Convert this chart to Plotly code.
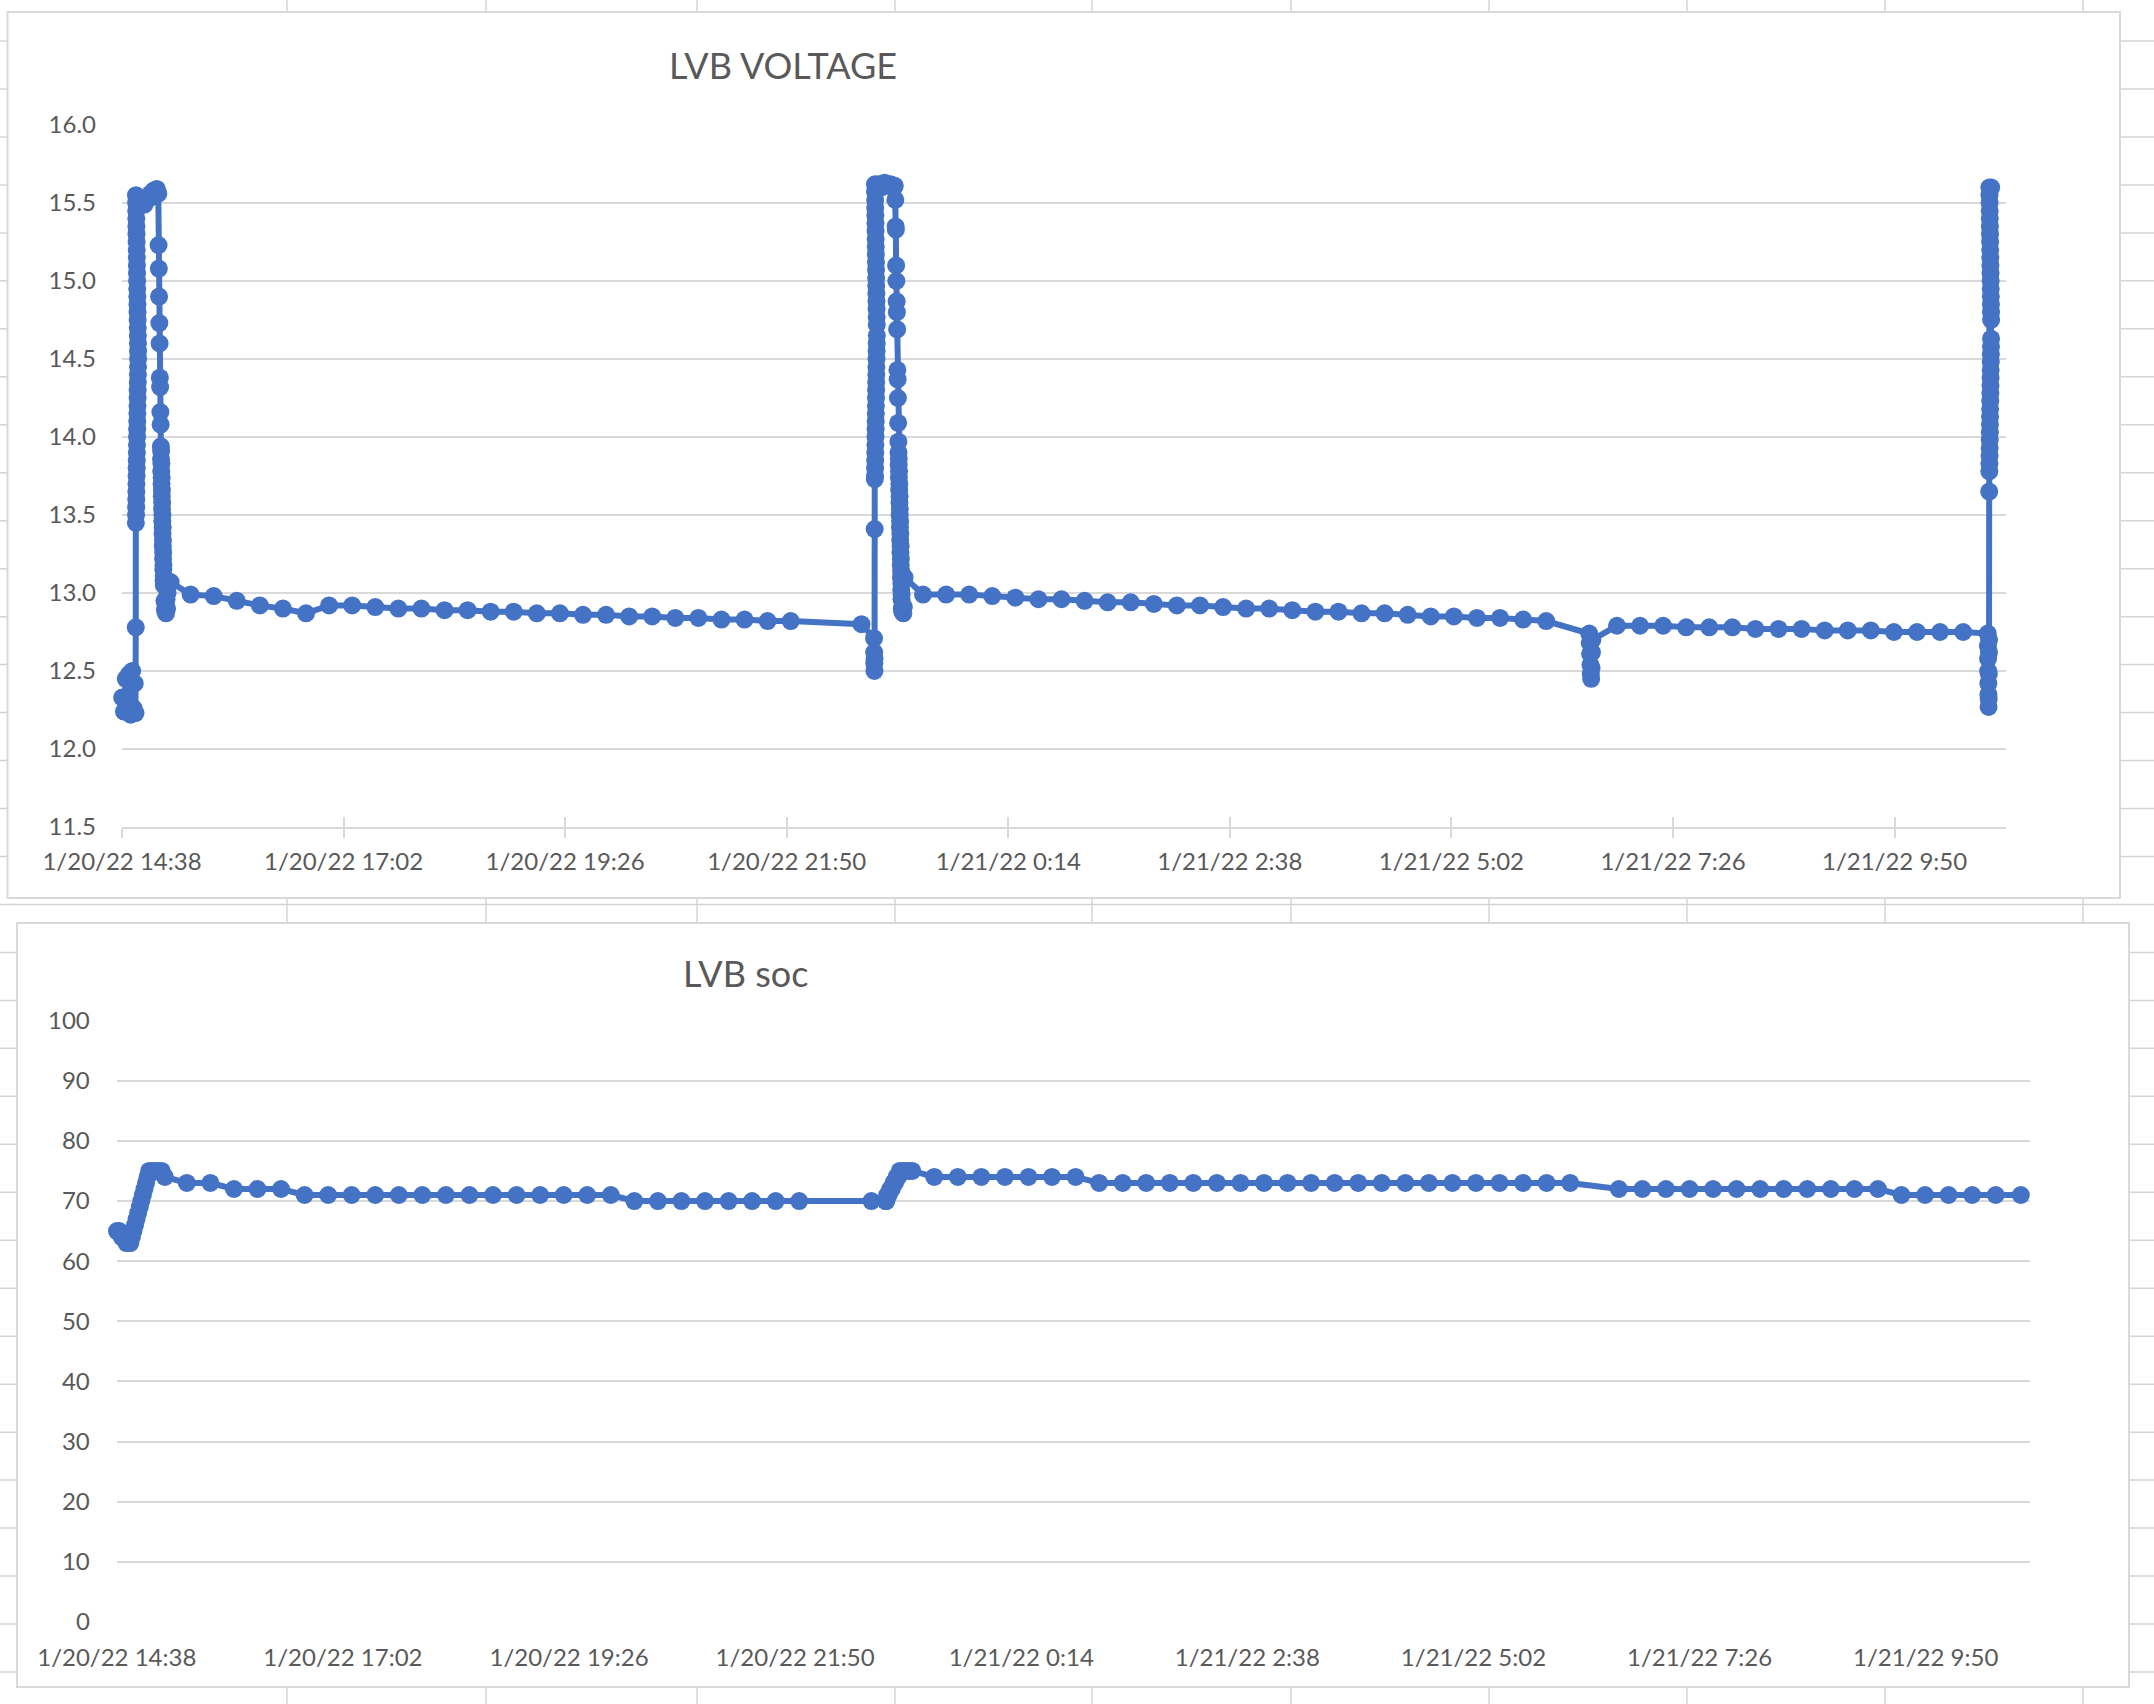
import pandas as pd
import plotly.graph_objects as go

# ---------------- DATA ----------------
# times are "DD HH:MM[:SS]" on January 2022
TICK_TIMES = ["20 14:38:24", "20 17:02:24", "20 19:26:24", "20 21:50:24", "21 00:14:24",
              "21 02:38:24", "21 05:02:24", "21 07:26:24", "21 09:50:24"]
TICK_TEXT = ["1/20/22 14:38", "1/20/22 17:02", "1/20/22 19:26", "1/20/22 21:50", "1/21/22 0:14",
             "1/21/22 2:38", "1/21/22 5:02", "1/21/22 7:26", "1/21/22 9:50"]

# ---- first charge: voltage ----
CHG1_PRE_TIME = ["20 14:38:30", "20 14:39:40", "20 14:40:50", "20 14:42:00", "20 14:43:00", "20 14:44:00",
                 "20 14:45:00", "20 14:46:00", "20 14:46:40", "20 14:47:10", "20 14:47:20", "20 14:47:25"]
CHG1_PRE_V = [12.33, 12.24, 12.45, 12.30, 12.48, 12.22, 12.50, 12.26, 12.42, 12.23, 12.78, 13.45]
CHG1_BAND_TIME = ["20 14:47:30", "20 14:47:32", "20 14:47:34", "20 14:47:36", "20 14:47:38", "20 14:47:40",
                  "20 14:47:42", "20 14:47:44", "20 14:47:46", "20 14:47:48", "20 14:47:50", "20 14:47:52",
                  "20 14:47:54", "20 14:47:56", "20 14:47:58", "20 14:48:00", "20 14:48:02", "20 14:48:04",
                  "20 14:48:06", "20 14:48:08", "20 14:48:10", "20 14:48:12", "20 14:48:14", "20 14:48:16",
                  "20 14:48:18", "20 14:48:20", "20 14:48:22", "20 14:48:24", "20 14:48:26", "20 14:48:28",
                  "20 14:48:30", "20 14:48:32", "20 14:48:34", "20 14:48:36", "20 14:48:38", "20 14:48:40",
                  "20 14:48:42", "20 14:48:44", "20 14:48:46", "20 14:48:48", "20 14:48:50", "20 14:48:52"]
CHG1_BAND_V = [15.55, 13.50, 15.50, 13.55, 15.45, 13.60, 15.40, 13.65, 15.35, 13.70, 15.30, 13.75,
               15.25, 13.80, 15.20, 13.85, 15.15, 13.90, 15.10, 13.95, 15.05, 14.00, 15.00, 14.05,
               14.95, 14.10, 14.90, 14.15, 14.85, 14.20, 14.80, 14.25, 14.75, 14.30, 14.70, 14.35,
               14.65, 14.40, 14.60, 14.45, 14.55, 14.50]
CHG1_POST_TIME = ["20 14:50:00", "20 14:53:00", "20 14:56:00", "20 14:57:00", "20 14:58:00", "20 14:59:00",
                  "20 15:00:00", "20 15:01:00", "20 15:01:30", "20 15:02:00",
                  "20 15:02:10", "20 15:02:20", "20 15:02:30", "20 15:02:40", "20 15:02:50", "20 15:03:00",
                  "20 15:03:10", "20 15:03:20", "20 15:03:30",
                  "20 15:03:40", "20 15:03:45", "20 15:03:50", "20 15:03:55", "20 15:04:00", "20 15:04:05",
                  "20 15:04:10", "20 15:04:15", "20 15:04:20", "20 15:04:25", "20 15:04:30", "20 15:04:35",
                  "20 15:04:40", "20 15:04:45", "20 15:04:50", "20 15:04:55", "20 15:05:00", "20 15:05:05",
                  "20 15:05:10", "20 15:05:15", "20 15:05:20", "20 15:05:25", "20 15:05:30", "20 15:05:35",
                  "20 15:06:00", "20 15:06:20", "20 15:06:40", "20 15:07:00", "20 15:07:20", "20 15:07:40",
                  "20 15:08:00", "20 15:10:00"]
CHG1_POST_V = [15.50, 15.49, 15.53, 15.56, 15.54, 15.58, 15.55, 15.59, 15.57, 15.56,
               15.23, 15.08, 14.90, 14.73, 14.60, 14.38, 14.32, 14.16, 14.08,
               13.94, 13.86, 13.91, 13.78, 13.83, 13.70, 13.74, 13.62, 13.66, 13.54, 13.58, 13.46,
               13.50, 13.38, 13.42, 13.30, 13.34, 13.22, 13.26, 13.15, 13.18, 13.08, 13.11, 13.05,
               12.95, 12.89, 12.93, 12.87, 12.96, 12.90, 13.00, 13.07]

# ---- first charge: state of charge ----
CHG1_S_TIME = ["20 14:38:30", "20 14:40:00", "20 14:41:30", "20 14:43:00", "20 14:44:30", "20 14:46:00",
               "20 14:47:00", "20 14:48:00", "20 14:49:00", "20 14:50:00", "20 14:51:00", "20 14:52:00",
               "20 14:53:00", "20 14:54:00", "20 14:55:00", "20 14:56:00", "20 14:57:00", "20 14:58:00",
               "20 14:59:00", "20 15:01:00", "20 15:03:00", "20 15:05:00", "20 15:07:00", "20 15:09:00"]
CHG1_S = [65, 65, 64, 64, 63, 63, 63, 64, 65, 66, 67, 68, 69, 70, 71, 72, 73, 74, 75, 75, 75, 75, 75, 74]

# ---- resting period 1 (shared timestamps) ----
IDLE1_TIME = ["20 15:23", "20 15:38", "20 15:53", "20 16:08", "20 16:23", "20 16:38", "20 16:53",
              "20 17:08", "20 17:23", "20 17:38", "20 17:53", "20 18:08", "20 18:23", "20 18:38",
              "20 18:53", "20 19:08", "20 19:23", "20 19:38", "20 19:53", "20 20:08", "20 20:23",
              "20 20:38", "20 20:53", "20 21:08", "20 21:23", "20 21:38", "20 21:53", "20 22:39"]
IDLE1_VOLT = [12.99, 12.98, 12.95, 12.92, 12.90, 12.87, 12.92, 12.92, 12.91, 12.90, 12.90, 12.89,
              12.89, 12.88, 12.88, 12.87, 12.87, 12.86, 12.86, 12.85, 12.85, 12.84, 12.84, 12.83,
              12.83, 12.82, 12.82, 12.80]
IDLE1_SOC = [73, 73, 72, 72, 72, 71, 71, 71, 71, 71, 71, 71, 71, 71, 71, 71, 71, 71, 71,
             70, 70, 70, 70, 70, 70, 70, 70, 70]

# ---- second charge: voltage ----
CHG2_PRE_TIME = ["20 22:47:10", "20 22:47:15", "20 22:47:20", "20 22:47:25", "20 22:47:30", "20 22:47:35",
                 "20 22:47:40"]
CHG2_PRE_V = [12.71, 12.62, 12.55, 12.50, 12.58, 13.41, 13.73]
CHG2_BAND_TIME = ["20 22:47:44", "20 22:47:46", "20 22:47:48", "20 22:47:50", "20 22:47:52", "20 22:47:54",
                  "20 22:47:56", "20 22:47:58", "20 22:48:00", "20 22:48:02", "20 22:48:04", "20 22:48:06",
                  "20 22:48:08", "20 22:48:10", "20 22:48:12", "20 22:48:14", "20 22:48:16", "20 22:48:18",
                  "20 22:48:20", "20 22:48:22", "20 22:48:24", "20 22:48:26", "20 22:48:28", "20 22:48:30",
                  "20 22:48:32", "20 22:48:34", "20 22:48:36", "20 22:48:38", "20 22:48:40", "20 22:48:42",
                  "20 22:48:44", "20 22:48:46", "20 22:48:48", "20 22:48:50", "20 22:48:52", "20 22:48:54",
                  "20 22:48:56", "20 22:48:58"]
CHG2_BAND_V = [15.62, 13.75, 15.57, 13.80, 15.52, 13.85, 15.47, 13.90, 15.42, 13.95, 15.37, 14.00,
               15.32, 14.05, 15.27, 14.10, 15.22, 14.15, 15.17, 14.20, 15.12, 14.25, 15.07, 14.30,
               15.02, 14.35, 14.97, 14.40, 14.92, 14.45, 14.87, 14.50, 14.82, 14.55, 14.77, 14.60,
               14.72, 14.65]
CHG2_POST_TIME = ["20 22:50:00", "20 22:52:00", "20 22:54:00", "20 22:56:00", "20 22:58:00", "20 23:00:00",
                  "20 23:00:40",
                  "20 23:01:00", "20 23:01:10", "20 23:01:20", "20 23:01:30", "20 23:01:40", "20 23:01:50",
                  "20 23:02:00", "20 23:02:10", "20 23:02:20", "20 23:02:30", "20 23:02:40", "20 23:02:50",
                  "20 23:03:00",
                  "20 23:03:05", "20 23:03:10", "20 23:03:15", "20 23:03:20", "20 23:03:25", "20 23:03:30",
                  "20 23:03:35", "20 23:03:40", "20 23:03:45", "20 23:03:50", "20 23:03:55", "20 23:04:00",
                  "20 23:04:05", "20 23:04:10", "20 23:04:15", "20 23:04:20", "20 23:04:25", "20 23:04:30",
                  "20 23:04:35", "20 23:04:40", "20 23:04:45", "20 23:04:50", "20 23:04:55", "20 23:05:00",
                  "20 23:05:05", "20 23:05:10",
                  "20 23:05:30", "20 23:05:50", "20 23:06:10", "20 23:06:30", "20 23:07:00"]
CHG2_POST_V = [15.62, 15.60, 15.63, 15.61, 15.62, 15.60, 15.61,
               15.52, 15.35, 15.33, 15.10, 15.00, 14.87, 14.80, 14.69, 14.43, 14.37, 14.25, 14.09, 13.97,
               13.90, 13.82, 13.86, 13.74, 13.78, 13.66, 13.70, 13.58, 13.62, 13.50, 13.54, 13.42,
               13.46, 13.34, 13.38, 13.26, 13.30, 13.18, 13.22, 13.10, 13.14, 13.02, 13.06, 12.96,
               12.99, 12.90,
               12.88, 12.92, 12.87, 12.91, 13.10]

# ---- second charge: state of charge ----
CHG2_S_TIME = ["20 22:48:00", "20 22:48:30", "20 22:49:00", "20 22:50:00", "20 22:51:00", "20 22:52:00",
               "20 22:53:00", "20 22:54:00", "20 22:55:00", "20 22:56:00", "20 22:57:00", "20 22:59:00",
               "20 23:01:00", "20 23:03:00", "20 23:05:00"]
CHG2_S = [70, 70, 71, 71, 72, 72, 73, 73, 74, 74, 75, 75, 75, 75, 75]

# ---- resting period 2 ----
IDLE2_TIME = ["20 23:19", "20 23:34", "20 23:49", "21 00:04", "21 00:19", "21 00:34", "21 00:49",
              "21 01:04", "21 01:19", "21 01:34", "21 01:49", "21 02:04", "21 02:19", "21 02:34",
              "21 02:49", "21 03:04", "21 03:19", "21 03:34", "21 03:49", "21 04:04", "21 04:19",
              "21 04:34", "21 04:49", "21 05:04", "21 05:19", "21 05:34", "21 05:49", "21 06:04"]
IDLE2_VOLT = [12.99, 12.99, 12.99, 12.98, 12.97, 12.96, 12.96, 12.95, 12.94, 12.94, 12.93, 12.92,
              12.92, 12.91, 12.90, 12.90, 12.89, 12.88, 12.88, 12.87, 12.87, 12.86, 12.85, 12.85,
              12.84, 12.84, 12.83, 12.82]
IDLE2_SOC = [74, 74, 74, 74, 74, 74, 74, 73, 73, 73, 73, 73, 73, 73, 73, 73, 73, 73, 73, 73,
             73, 73, 73, 73, 73, 73, 73, 73]

# ---- short voltage dip around 6:33 ----
DIP_V_TIME = ["21 06:32:00", "21 06:32:15", "21 06:32:30", "21 06:32:45", "21 06:33:00", "21 06:33:15",
              "21 06:33:30", "21 06:33:45", "21 06:34:00"]
DIP_V = [12.74, 12.68, 12.61, 12.54, 12.48, 12.45, 12.52, 12.62, 12.70]
DIP_S_TIME = ["21 06:35"]
DIP_S = [72]

# ---- resting period 3 ----
IDLE3_TIME = ["21 06:50", "21 07:05", "21 07:20", "21 07:35", "21 07:50", "21 08:05", "21 08:20",
              "21 08:35", "21 08:50", "21 09:05", "21 09:20", "21 09:35", "21 09:50", "21 10:05",
              "21 10:20", "21 10:35"]
IDLE3_VOLT = [12.79, 12.79, 12.79, 12.78, 12.78, 12.78, 12.77, 12.77, 12.77, 12.76, 12.76, 12.76,
              12.75, 12.75, 12.75, 12.75]
IDLE3_SOC = [72, 72, 72, 72, 72, 72, 72, 72, 72, 72, 72, 71, 71, 71, 71, 71]

# ---- third charge (start): voltage ----
CHG3_PRE_TIME = ["21 10:51:00", "21 10:51:05", "21 10:51:10", "21 10:51:15", "21 10:51:20", "21 10:51:25",
                 "21 10:51:30", "21 10:51:35", "21 10:51:40", "21 10:51:45", "21 10:51:50", "21 10:51:55"]
CHG3_PRE_V = [12.74, 12.66, 12.58, 12.50, 12.42, 12.35, 12.27, 12.32, 12.48, 12.62, 12.70, 13.65]
CHG3_BAND_TIME = ["21 10:52:00", "21 10:52:02", "21 10:52:04", "21 10:52:06", "21 10:52:08", "21 10:52:10",
                  "21 10:52:12", "21 10:52:14", "21 10:52:16", "21 10:52:18", "21 10:52:20", "21 10:52:22",
                  "21 10:52:24", "21 10:52:26", "21 10:52:28", "21 10:52:30", "21 10:52:32", "21 10:52:34",
                  "21 10:52:36", "21 10:52:38", "21 10:52:40", "21 10:52:42", "21 10:52:44", "21 10:52:46",
                  "21 10:52:48", "21 10:52:50", "21 10:52:52", "21 10:52:54", "21 10:52:56", "21 10:52:58",
                  "21 10:53:00", "21 10:53:02", "21 10:53:04", "21 10:53:06", "21 10:53:08", "21 10:53:10",
                  "21 10:53:12"]
CHG3_BAND_V = [13.78, 15.60, 13.83, 15.55, 13.88, 15.50, 13.93, 15.45, 13.98, 15.40, 14.03, 15.35,
               14.08, 15.30, 14.13, 15.25, 14.18, 15.20, 14.23, 15.15, 14.28, 15.10, 14.33, 15.05,
               14.38, 15.00, 14.43, 14.95, 14.48, 14.90, 14.53, 14.85, 14.58, 14.80, 14.63, 14.75,
               15.60]
CHG3_S_TIME = ["21 10:51"]
CHG3_S = [71]

VOLT_RANGE_T = ["20 14:38:24", "21 11:02:50"]
SOC_RANGE_T = ["20 14:38:24", "21 10:56:50"]
VOLT_TICKS = [11.5, 12.0, 12.5, 13.0, 13.5, 14.0, 14.5, 15.0, 15.5, 16.0]
SOC_TICKS = [0, 10, 20, 30, 40, 50, 60, 70, 80, 90, 100]


def to_dt(lst):
    return pd.to_datetime(["2022-01-" + s for s in lst], format="mixed")


volt_t = to_dt(CHG1_PRE_TIME + CHG1_BAND_TIME + CHG1_POST_TIME + IDLE1_TIME
               + CHG2_PRE_TIME + CHG2_BAND_TIME + CHG2_POST_TIME + IDLE2_TIME
               + DIP_V_TIME + IDLE3_TIME + CHG3_PRE_TIME + CHG3_BAND_TIME)
volt_v = (CHG1_PRE_V + CHG1_BAND_V + CHG1_POST_V + IDLE1_VOLT
          + CHG2_PRE_V + CHG2_BAND_V + CHG2_POST_V + IDLE2_VOLT
          + DIP_V + IDLE3_VOLT + CHG3_PRE_V + CHG3_BAND_V)
soc_t = to_dt(CHG1_S_TIME + IDLE1_TIME + CHG2_S_TIME + IDLE2_TIME + DIP_S_TIME + IDLE3_TIME + CHG3_S_TIME)
soc_v = CHG1_S + IDLE1_SOC + CHG2_S + IDLE2_SOC + DIP_S + IDLE3_SOC + CHG3_S
assert len(volt_t) == len(volt_v) and len(soc_t) == len(soc_v)

tickvals = list(to_dt(TICK_TIMES))

# ---------------- STYLE / LAYOUT ----------------
W, H = 2154, 1704
BLUE = "#4472C4"
GRID = "#d9d9d9"
TXT = "#595959"
FONT = "Lato"


def fx(x):
    return x / W


def fy(y):
    return 1 - y / H


fig = go.Figure()
fig.add_trace(go.Scatter(x=volt_t, y=volt_v, mode="lines+markers", xaxis="x", yaxis="y",
                         line=dict(color=BLUE, width=6), marker=dict(color=BLUE, size=18),
                         cliponaxis=False, showlegend=False, hoverinfo="x+y"))
fig.add_trace(go.Scatter(x=[], y=[], xaxis="x3", yaxis="y", showlegend=False, hoverinfo="skip"))
fig.add_trace(go.Scatter(x=soc_t, y=soc_v, mode="lines+markers", xaxis="x2", yaxis="y2",
                         line=dict(color=BLUE, width=6), marker=dict(color=BLUE, size=18),
                         cliponaxis=False, showlegend=False, hoverinfo="x+y"))

tickfont = dict(family=FONT, size=24, color=TXT)

# spreadsheet background
shapes = []
row_y = [41 + 47.97 * k for k in range(36)]
col_x = [287, 486, 697, 895, 1092, 1291, 1489, 1687, 1885, 2083]
for y in row_y:
    shapes.append(dict(type="line", xref="paper", yref="paper", x0=0, x1=1, y0=fy(y), y1=fy(y),
                       line=dict(color="#d4d4d4", width=1.5), layer="below"))
for x in col_x:
    shapes.append(dict(type="line", xref="paper", yref="paper", x0=fx(x), x1=fx(x), y0=0, y1=1,
                       line=dict(color="#d4d4d4", width=1.5), layer="below"))
# chart panels
for (x0, y0, x1, y1) in [(7.5, 12, 2120, 898), (17, 923, 2129, 1687)]:
    shapes.append(dict(type="rect", xref="paper", yref="paper", x0=fx(x0), x1=fx(x1), y0=fy(y1), y1=fy(y0),
                       fillcolor="white", line=dict(color=GRID, width=2), layer="below"))

vr = [str(t) for t in to_dt(VOLT_RANGE_T)]
sr = [str(t) for t in to_dt(SOC_RANGE_T)]

fig.update_layout(
    width=W, height=H, autosize=False,
    margin=dict(l=0, r=0, t=0, b=0, pad=0),
    paper_bgcolor="white", plot_bgcolor="rgba(0,0,0,0)",
    shapes=shapes,
    xaxis=dict(domain=[fx(122), fx(2006)], anchor="y", type="date", range=vr, automargin=False,
               tickvals=tickvals, ticktext=TICK_TEXT, tickfont=tickfont,
               showgrid=False, showline=True, linecolor=GRID, linewidth=2,
               ticks="outside", ticklen=9, tickwidth=2, tickcolor=GRID, ticklabelstandoff=3),
    xaxis3=dict(domain=[fx(122), fx(2006)], anchor="y", overlaying="x", type="date", automargin=False,
                range=vr, tickvals=tickvals, showticklabels=False,
                showgrid=False, showline=False, ticks="inside", ticklen=10, tickwidth=2, tickcolor=GRID),
    yaxis=dict(domain=[fy(827), fy(125)], anchor="x", range=[11.5, 16.0], tickvals=VOLT_TICKS,
               automargin=False,
               tickformat=".1f", tickfont=tickfont, showgrid=True, gridcolor=GRID, gridwidth=2,
               zeroline=False, showline=False, ticks="", ticklabelstandoff=25),
    xaxis2=dict(domain=[fx(116.8), fx(2030)], anchor="y2", type="date", range=sr, automargin=False,
                tickvals=tickvals, ticktext=TICK_TEXT, tickfont=tickfont,
                showgrid=False, showline=False, ticks="", ticklabelstandoff=19),
    yaxis2=dict(domain=[fy(1622), fy(1020.6)], anchor="x2", range=[0, 100], tickvals=SOC_TICKS,
                automargin=False,
                tickfont=tickfont, showgrid=True, gridcolor=GRID, gridwidth=2,
                zeroline=False, showline=False, ticks="", ticklabelstandoff=26),
    annotations=[
        dict(text="LVB VOLTAGE", xref="paper", yref="paper", x=fx(783), y=fy(65), xanchor="center",
             yanchor="middle", showarrow=False, font=dict(family=FONT, size=36, color=TXT)),
        dict(text="LVB soc", xref="paper", yref="paper", x=fx(745), y=fy(973), xanchor="center",
             yanchor="middle", showarrow=False, font=dict(family=FONT, size=36, color=TXT)),
    ],
)

fig.write_html("out.html")
